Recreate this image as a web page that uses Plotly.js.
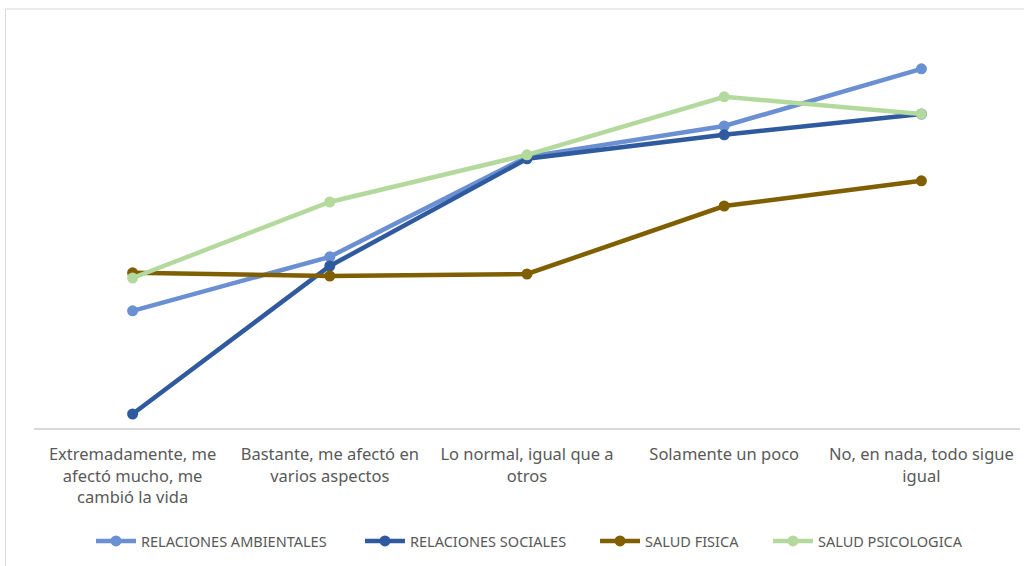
<!DOCTYPE html>
<html>
<head>
<meta charset="utf-8">
<script src="https://cdn.plot.ly/plotly-3.0.1.min.js"></script>
<style>html,body{margin:0;padding:0;background:#fff;}#chart{width:1024px;height:566px;}</style>
</head>
<body>
<div id="chart"></div>
<script>
const categories = [
  "Extremadamente, me<br>afectó mucho, me<br>cambió la vida",
  "Bastante, me afectó en<br>varios aspectos",
  "Lo normal, igual que a<br>otros",
  "Solamente un poco",
  "No, en nada, todo sigue<br>igual"
];
const relacionesAmbientales = [29.3, 42.8, 67.8, 75.5, 89.8];
const relacionesSociales = [3.5, 40.5, 67.3, 73.3, 78.5];
const saludFisica = [38.8, 38.0, 38.5, 55.5, 61.8];
const saludPsicologica = [37.5, 56.5, 68.3, 82.8, 78.5];

const seriesNames = ["RELACIONES AMBIENTALES", "RELACIONES SOCIALES", "SALUD FISICA", "SALUD PSICOLOGICA"];
const seriesValues = [relacionesAmbientales, relacionesSociales, saludFisica, saludPsicologica];
const colors = ["#6a8fd2", "#2f5a9e", "#7f5f00", "#b4d99c"];
const legendIds = ["legend", "legend2", "legend3", "legend4"];
const legendX = [0.0578, 0.3306, 0.569, 0.7444];

const traces = seriesNames.map((n, i) => ({
  type: "scatter",
  mode: "lines+markers",
  name: n,
  x: [0,1,2,3,4],
  y: seriesValues[i],
  line: {color: colors[i], width: 4.5},
  marker: {color: colors[i], size: 11},
  cliponaxis: false,
  legend: legendIds[i]
}));

const layout = {
  width: 1024, height: 566,
  margin: {l: 34, r: 4, t: 20, b: 138},
  paper_bgcolor: "#fff", plot_bgcolor: "#fff",
  font: {family: "Noto Sans, Open Sans, sans-serif", color: "#595959"},
  showlegend: true,
  xaxis: {
    range: [-0.5, 4.5], tickmode: "array", tickvals: [0,1,2,3,4], ticktext: categories,
    showgrid: false, zeroline: false, showline: true, linecolor: "#d9d9d9", linewidth: 1.5,
    ticks: "", tickfont: {size: 16.5, color: "#595959"}, ticklabelstandoff: 11, fixedrange: true
  },
  yaxis: {
    range: [0, 102], visible: false, showgrid: false, zeroline: false, fixedrange: true
  },
  shapes: [{
    type: "rect", xref: "paper", yref: "paper",
    x0: -0.0289, x1: 1.02, y0: -0.5, y1: 1.027,
    line: {color: "#d9d9d9", width: 1}, fillcolor: "rgba(0,0,0,0)", layer: "below"
  }]
};
legendIds.forEach((id, i) => {
  layout[id] = {orientation: "h", x: legendX[i], xanchor: "left", y: -0.277, yanchor: "middle",
                font: {size: 14.5, color: "#595959"}, itemwidth: 40, bgcolor: "rgba(0,0,0,0)"};
});

Plotly.newPlot("chart", traces, layout, {displayModeBar: false, staticPlot: true});
</script>
</body>
</html>
